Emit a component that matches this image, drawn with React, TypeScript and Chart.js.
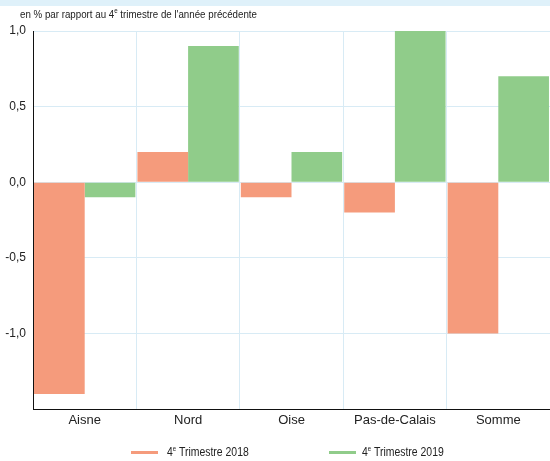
import React, { useEffect, useRef } from "react";
import { Chart, registerables } from "chart.js";

Chart.register(...registerables);

const categories = ["Aisne", "Nord", "Oise", "Pas-de-Calais", "Somme"];
const series2018 = [-1.4, 0.2, -0.1, -0.2, -1.0];
const series2019 = [-0.1, 0.9, 0.2, 1.0, 0.7];
const seriesLabels = ["Trimestre 2018", "Trimestre 2019"];
const colors = ["#F59B7C", "#90CC8A"];
const yMin = -1.5;
const yMax = 1.0;

const FONT = "'Liberation Sans', Arial, sans-serif";

export default function App() {
  const ref = useRef<HTMLCanvasElement | null>(null);

  useEffect(() => {
    if (!ref.current) return;
    const chart = new Chart(ref.current, {
      type: "bar",
      data: {
        labels: categories,
        datasets: [
          { label: seriesLabels[0], data: series2018, backgroundColor: colors[0], borderWidth: 0 },
          { label: seriesLabels[1], data: series2019, backgroundColor: colors[1], borderWidth: 0 },
        ],
      },
      options: {
        responsive: false,
        animation: false,
        layout: { padding: { top: 31, right: 0, bottom: 0, left: 0 } },
        plugins: { legend: { display: false }, tooltip: { enabled: false } },
        datasets: { bar: { barPercentage: 1, categoryPercentage: 0.98 } },
        scales: {
          x: {
            grid: { color: "#D8EBF5", lineWidth: 1, drawTicks: false, offset: true },
            border: { color: "#111", width: 1 },
            ticks: { color: "#222", font: { family: FONT, size: 13 }, padding: 4 },
            afterFit: (s: any) => { s.height = 52; },
          },
          y: {
            min: yMin,
            max: yMax,
            grid: { color: "#D8EBF5", lineWidth: 1, drawTicks: false },
            border: { color: "#111", width: 1 },
            ticks: {
              stepSize: 0.5,
              color: "#222",
              font: { family: FONT, size: 12 },
              padding: 7,
              callback: (v: any) => (Number(v) < yMin + 0.01 ? "" : Number(v).toFixed(1).replace(".", ",")),
            },
            afterFit: (s: any) => { s.width = 33; },
          },
        },
      },
    });
    return () => chart.destroy();
  }, []);

  const legendItem = (left: number, textLeft: number, color: string, label: string) => (
    <>
      <div style={{ position: "absolute", left, top: 451, width: 27, height: 3, background: color }} />
      <div style={{ position: "absolute", left: textLeft, top: 444, fontFamily: FONT, fontSize: 12, color: "#222", whiteSpace: "nowrap", lineHeight: "16px", transform: "scaleX(0.87)", transformOrigin: "left center" }}>
        4<sup style={{ fontSize: 7, verticalAlign: "top", lineHeight: "10px" }}>e</sup> {label}
      </div>
    </>
  );

  return (
    <div style={{ position: "fixed", left: 0, top: 0, width: 550, height: 461, background: "#fff", overflow: "hidden" }}>
      <div style={{ position: "absolute", left: 0, top: 0, width: 550, height: 6, background: "#DFF1FA" }} />
      <canvas ref={ref} width={550} height={461} style={{ position: "absolute", left: 0, top: 0, width: 550, height: 461 }} />
      <div style={{ position: "absolute", left: 20, top: 7, fontFamily: FONT, fontSize: 11, color: "#222", whiteSpace: "nowrap", lineHeight: "14px", transform: "scaleX(0.885)", transformOrigin: "left center" }}>
        en % par rapport au 4<sup style={{ fontSize: 7, verticalAlign: "top", lineHeight: "8px" }}>e</sup> trimestre de l'année précédente
      </div>
      {legendItem(131, 167, colors[0], seriesLabels[0])}
      {legendItem(329, 362, colors[1], seriesLabels[1])}
    </div>
  );
}
